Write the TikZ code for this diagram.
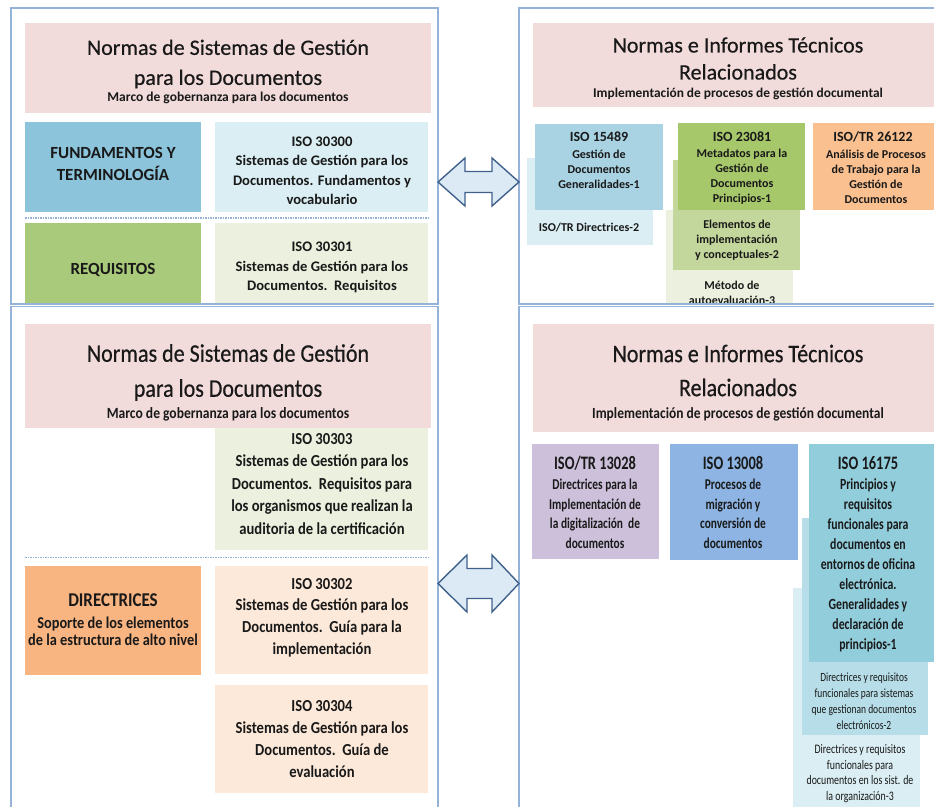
\documentclass[tikz,border=0pt]{standalone}
\usepackage{fontspec}
\setmainfont{Carlito}
\newfontfamily\fT[FakeBold=0.5]{Carlito}
\newfontfamily\fTB[FakeStretch=0.87,FakeBold=0.5]{Carlito}
\newfontfamily\fB[FakeStretch=0.87]{Carlito}
\newfontfamily\fD[FakeStretch=0.76]{Carlito}
\definecolor{frameblue}{RGB}{149,179,215}
\definecolor{titlepink}{RGB}{242,220,219}
\definecolor{fundblue}{RGB}{140,196,219}
\definecolor{lightblue}{RGB}{218,238,243}
\definecolor{reqgreen}{RGB}{169,202,122}
\definecolor{lightgreen}{RGB}{235,241,222}
\definecolor{midgreen}{RGB}{195,214,155}
\definecolor{isogreen}{RGB}{166,200,106}
\definecolor{dirorange}{RGB}{248,180,129}
\definecolor{lightpeach}{RGB}{253,233,217}
\definecolor{peach}{RGB}{250,192,144}
\definecolor{isoblue}{RGB}{169,211,226}
\definecolor{lavender}{RGB}{204,192,218}
\definecolor{medblue}{RGB}{141,180,226}
\definecolor{teal}{RGB}{146,205,220}
\definecolor{paleteal}{RGB}{183,222,232}
\definecolor{arrowline}{RGB}{63,97,140}
\definecolor{arrowfill}{RGB}{220,234,245}
\definecolor{textc}{RGB}{25,25,25}
\tikzset{
  frame/.style={draw=frameblue, line width=1.3pt},
  boxbase/.style={inner sep=0pt, outer sep=0pt, anchor=north west, draw=none},
  txt/.style={inner sep=0pt, outer sep=0pt, align=center, text=textc},
  sepline/.style={draw=frameblue, line width=1.3pt, dash pattern=on 1.5pt off 1pt},
  darrow/.style={draw=arrowline, fill=arrowfill, line width=1.4pt, line join=miter},
}
% \boxnode{name}{colour}{x1}{y1}{x2}{y2}
\newcommand\boxnode[6]{%
  \node[boxbase, fill=#2, minimum width={#5pt-#3pt}, minimum height={#6pt-#4pt}] (#1) at (#3,#4) {};}
\begin{document}
\begin{tikzpicture}[x=1pt,y=-1pt]
\useasboundingbox (0,0) rectangle (934,806);
\clip (0,0) rectangle (934,806);
\fill[white] (0,0) rectangle (934,806);

% ---------------- top left ----------------
\begin{scope}
\clip (0,0) rectangle (470,304);
\boxnode{tlTitle}{titlepink}{25}{23}{431}{113}
\boxnode{tlFund}{fundblue}{25}{122}{201}{212}
\boxnode{tlIso0}{lightblue}{215}{122}{428}{212}
\boxnode{tlReq}{reqgreen}{25}{223}{201}{303}
\boxnode{tlIso1}{lightgreen}{215}{223}{428}{303}
\end{scope}
\coordinate (tlSepA) at (25,218);
\coordinate (tlSepB) at (430,218);
\draw[sepline] (tlSepA) -- (tlSepB);
\node[txt, font=\fT\fontsize{22}{30}\selectfont] (tlT) at (228,64) {Normas de Sistemas de Gestión\\para los Documentos};
\node[txt, font=\bfseries\fontsize{13.5}{15}\selectfont] (tlS) at (228,98) {Marco de gobernanza para los documentos};
\node[txt, font=\bfseries\fontsize{17}{22}\selectfont] (tlFundT) at (113,164) {FUNDAMENTOS Y\\TERMINOLOGÍA};
\node[txt, font=\bfseries\fontsize{14.6}{19.5}\selectfont] (tlIso0T) at (322,171) {ISO 30300\\Sistemas de Gestión para los\\Documentos. Fundamentos y\\vocabulario};
\node[txt, font=\bfseries\fontsize{17}{22}\selectfont] (tlReqT) at (113,270) {REQUISITOS};
\node[txt, font=\bfseries\fontsize{14.6}{19.5}\selectfont] (tlIso1T) at (322,267.5) {ISO 30301\\Sistemas de Gestión para los\\Documentos.\ \ Requisitos};

% ---------------- top right ----------------
\begin{scope}
\clip (519,0) rectangle (934,304);
\boxnode{trTitle}{titlepink}{533}{23}{945}{107}
\boxnode{trDir}{lightblue}{527}{158}{653}{245}
\boxnode{trIso1}{isoblue}{535}{124}{663}{210}
\boxnode{trMet}{lightgreen}{666}{210}{793}{310}
\boxnode{trElem}{midgreen}{673}{160}{800}{270}
\boxnode{trIso2}{isogreen}{678}{123}{805}{210}
\boxnode{trIso3}{peach}{813}{123}{945}{210}
\node[txt, font=\bfseries\fontsize{12}{15}\selectfont] (trMetT) at (732,292.5) {Método de\\autoevaluación-3};
\end{scope}
\node[txt, font=\fT\fontsize{22}{27}\selectfont] (trT) at (738,58.5) {Normas e Informes Técnicos\\Relacionados};
\node[txt, font=\bfseries\fontsize{13.4}{15}\selectfont] (trS) at (738,94) {Implementación de procesos de gestión documental};
\node[txt, font=\bfseries\fontsize{14}{16}\selectfont] (trIso1H) at (599,137) {ISO 15489};
\node[txt, font=\bfseries\fontsize{12}{15}\selectfont] (trIso1B) at (599,169) {Gestión de\\Documentos\\Generalidades-1};
\node[txt, font=\bfseries\fontsize{12}{15}\selectfont] (trDirT) at (589,228) {ISO/TR Directrices-2};
\node[txt, font=\bfseries\fontsize{14}{16}\selectfont] (trIso2H) at (742,137) {ISO 23081};
\node[txt, font=\bfseries\fontsize{12}{15}\selectfont] (trIso2B) at (742,176.5) {Metadatos para la\\Gestión de\\Documentos\\Principios-1};
\node[txt, font=\bfseries\fontsize{12}{15}\selectfont] (trElemT) at (737,240) {Elementos de\\implementación\\y conceptuales-2};
\node[txt, font=\bfseries\fontsize{14}{16}\selectfont] (trIso3H) at (873,137) {ISO/TR 26122};
\node[txt, font=\bfseries\fontsize{12}{15}\selectfont] (trIso3B) at (876,176.5) {Análisis de Procesos\\de Trabajo para la\\Gestión de\\Documentos};

% ---------------- bottom left ----------------
\boxnode{blTitle}{titlepink}{25}{324}{431}{428}
\boxnode{blIso3}{lightgreen}{215}{428}{428}{550}
\boxnode{blDir}{dirorange}{25}{566}{201}{675}
\boxnode{blIso2}{lightpeach}{215}{566}{428}{674}
\boxnode{blIso4}{lightpeach}{215}{685}{428}{793}
\coordinate (blSepA) at (25,557.5);
\coordinate (blSepB) at (430,557.5);
\draw[sepline] (blSepA) -- (blSepB);
\node[txt, font=\fTB\fontsize{25.3}{35}\selectfont] (blT) at (228,372.5) {Normas de Sistemas de Gestión\\para los Documentos};
\node[txt, font=\fB\bfseries\fontsize{15.6}{17}\selectfont] (blS) at (228,414) {Marco de gobernanza para los documentos};
\node[txt, font=\fB\bfseries\fontsize{16.8}{22.5}\selectfont] (blIso3T) at (322,484) {ISO 30303\\Sistemas de Gestión para los\\Documentos.\ \ Requisitos para\\los organismos que realizan la\\auditoria de la certificación};
\node[txt, font=\fB\bfseries\fontsize{19.5}{22}\selectfont] (blDirH) at (113,600) {DIRECTRICES};
\node[txt, font=\fB\bfseries\fontsize{16.5}{17}\selectfont] (blDirB) at (113,631.5) {Soporte de los elementos\\de la estructura de alto nivel};
\node[txt, font=\fB\bfseries\fontsize{16.8}{21.7}\selectfont] (blIso2T) at (322,617.5) {ISO 30302\\Sistemas de Gestión para los\\Documentos.\ \ Guía para la\\implementación};
\node[txt, font=\fB\bfseries\fontsize{16.8}{22}\selectfont] (blIso4T) at (322,739.5) {ISO 30304\\Sistemas de Gestión para los\\Documentos.\ \ Guía de\\evaluación};

% ---------------- bottom right ----------------
\boxnode{brTitle}{titlepink}{533}{324}{945}{432}
\boxnode{brIsoA}{lavender}{532}{444}{659}{559}
\boxnode{brIsoB}{medblue}{670}{444}{798}{560}
\boxnode{brSub3}{lightblue}{793}{588}{920}{815}
\boxnode{brSub2}{paleteal}{802}{518}{928}{735}
\boxnode{brIsoC}{teal}{809}{444}{945}{662}
\node[txt, font=\fTB\fontsize{25.3}{34}\selectfont] (brT) at (738,370.5) {Normas e Informes Técnicos\\Relacionados};
\node[txt, font=\fB\bfseries\fontsize{15.5}{17}\selectfont] (brS) at (738,414.5) {Implementación de procesos de gestión documental};
\node[txt, font=\fD\bfseries\fontsize{19}{20}\selectfont] (brIsoAH) at (595,463) {ISO/TR 13028};
\node[txt, font=\fD\bfseries\fontsize{15}{19.5}\selectfont] (brIsoAB) at (595,514) {Directrices para la\\Implementación de\\la digitalización\ \ de\\documentos};
\node[txt, font=\fD\bfseries\fontsize{19}{20}\selectfont] (brIsoBH) at (733,463) {ISO 13008};
\node[txt, font=\fD\bfseries\fontsize{15}{19.5}\selectfont] (brIsoBB) at (733,514) {Procesos de\\migración y\\conversión de\\documentos};
\node[txt, font=\fD\bfseries\fontsize{19}{20}\selectfont] (brIsoCH) at (868,463) {ISO 16175};
\node[txt, font=\fD\bfseries\fontsize{15.5}{20}\selectfont] (brIsoCB) at (868,565) {Principios y\\requisitos\\funcionales para\\documentos en\\entornos de oficina\\electrónica.\\Generalidades y\\declaración de\\principios-1};
\node[txt, font=\fD\fontsize{12.5}{16}\selectfont] (brSub2T) at (864,701) {Directrices y requisitos\\funcionales para sistemas\\que gestionan documentos\\electrónicos-2};
\node[txt, font=\fD\fontsize{13}{15.7}\selectfont] (brSub3T) at (860,773.5) {Directrices y requisitos\\funcionales para\\documentos en los sist. de\\la organización-3};

% ---------------- frames ----------------
\draw[frame] (11,8) rectangle (438,304);
\draw[frame] (519,8) rectangle (945,304);
\draw[frame] (11,306.5) rectangle (438,815);
\draw[frame] (519,306.5) rectangle (945,815);

% ---------------- double arrows ----------------
\draw[darrow] (438,182) -- (465,158) -- (465,171.5) -- (492,171.5) -- (492,158) -- (519,182)
  -- (492,206) -- (492,192.5) -- (465,192.5) -- (465,206) -- cycle;
\draw[darrow] (438,583.5) -- (467,555) -- (467,568.5) -- (492,568.5) -- (492,555) -- (519,583.5)
  -- (492,612) -- (492,598.5) -- (467,598.5) -- (467,612) -- cycle;
\end{tikzpicture}
\end{document}
